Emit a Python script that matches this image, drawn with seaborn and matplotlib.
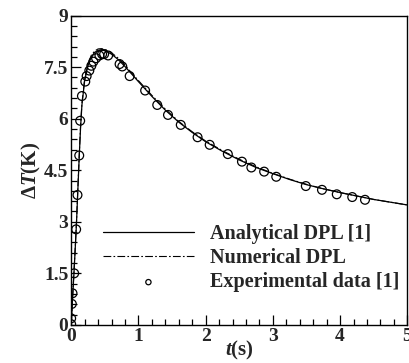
import matplotlib
matplotlib.use("Agg")
import matplotlib.pyplot as plt
import seaborn as sns
import pandas as pd
from matplotlib.ticker import MultipleLocator, FuncFormatter

# curve
t_curve = [0, 0.01, 0.02, 0.04, 0.06, 0.08, 0.1, 0.12, 0.14, 0.16, 0.2, 0.25, 0.3, 0.35,
           0.4, 0.45, 0.5, 0.6, 0.7, 0.8, 0.9, 1.0, 1.2, 1.4, 1.6, 1.8, 2.0, 2.25, 2.5,
           2.75, 3.0, 3.25, 3.5, 3.75, 4.0, 4.25, 4.5, 4.75, 5.0]
T_analytical = [0, 0.35, 0.75, 1.45, 2.2, 3.0, 3.95, 4.9, 5.75, 6.4, 7.1, 7.55, 7.8, 7.93,
                7.99, 8.0, 7.98, 7.88, 7.72, 7.52, 7.3, 7.08, 6.65, 6.25, 5.9, 5.6, 5.33,
                5.05, 4.8, 4.58, 4.4, 4.23, 4.08, 3.96, 3.85, 3.75, 3.65, 3.57, 3.49]
T_numerical = [0, 0.36, 0.77, 1.48, 2.24, 3.05, 4.0, 4.95, 5.8, 6.45, 7.15, 7.6, 7.85, 7.97,
               8.03, 8.04, 8.02, 7.92, 7.76, 7.56, 7.33, 7.11, 6.68, 6.28, 5.92, 5.62, 5.35,
               5.07, 4.82, 4.6, 4.41, 4.24, 4.09, 3.96, 3.85, 3.75, 3.65, 3.57, 3.49]

# experimental points
t_exp = [0.0, 0.0, 0.01, 0.02, 0.045, 0.074, 0.094, 0.12, 0.134, 0.16, 0.21, 0.23, 0.27,
         0.30, 0.33, 0.37, 0.42, 0.46, 0.49, 0.55, 0.72, 0.76, 0.87, 1.10, 1.28, 1.44,
         1.63, 1.88, 2.06, 2.33, 2.54, 2.68, 2.87, 3.05, 3.49, 3.73, 3.95, 4.18, 4.37]
T_exp = [0.02, 0.19, 0.61, 0.92, 1.50, 2.78, 3.78, 4.93, 5.94, 6.66, 7.08, 7.24, 7.40,
         7.54, 7.66, 7.76, 7.84, 7.88, 7.88, 7.84, 7.59, 7.52, 7.24, 6.82, 6.40, 6.11,
         5.82, 5.46, 5.24, 4.97, 4.75, 4.58, 4.46, 4.31, 4.04, 3.93, 3.80, 3.72, 3.64]

df_a = pd.DataFrame({"t": t_curve, "T": T_analytical})
df_n = pd.DataFrame({"t": t_curve, "T": T_numerical})
df_e = pd.DataFrame({"t": t_exp, "T": T_exp})

sns.set_style("ticks")
plt.rcParams["font.family"] = ["Liberation Serif", "DejaVu Serif"]
plt.rcParams["font.weight"] = "bold"
plt.rcParams["mathtext.fontset"] = "custom"
plt.rcParams["mathtext.rm"] = "Liberation Serif:bold"
plt.rcParams["mathtext.it"] = "Liberation Serif:bold:italic"

fig = plt.figure(figsize=(4.09, 3.63), dpi=100)
ax = fig.add_axes([0.174, 0.105, 0.822, 0.852])

sns.lineplot(data=df_a, x="t", y="T", ax=ax, color="black", lw=0.9,
             label="Analytical DPL [1]")
sns.lineplot(data=df_n, x="t", y="T", ax=ax, color="black", lw=0.8,
             dashes=False, label="Numerical DPL")
ax.lines[1].set_linestyle((0, (7, 2, 1.5, 2)))
sns.scatterplot(data=df_e, x="t", y="T", ax=ax, marker="o", s=40,
                facecolor="none", edgecolor="black", linewidth=0.9,
                label="Experimental data [1]")

ax.set_xlim(0, 5)
ax.set_ylim(0, 9)
ax.xaxis.set_major_locator(MultipleLocator(1))
ax.xaxis.set_minor_locator(MultipleLocator(0.2))
ax.yaxis.set_major_locator(MultipleLocator(1.5))
ax.yaxis.set_minor_locator(MultipleLocator(0.3))
ax.yaxis.set_major_formatter(FuncFormatter(lambda v, p: f"{v:g}"))
ax.tick_params(which="both", direction="in", top=False, right=False, labelsize=14,
               width=0.9, color="black")
ax.tick_params(which="major", length=7, pad=2)
ax.tick_params(which="minor", length=4)
for s in ax.spines.values():
    s.set_linewidth(1.0)
    s.set_color("black")

ax.set_xlabel(r"$\mathit{t}\mathrm{(s)}$", fontsize=15, labelpad=-4)
ax.set_ylabel(r"$\Delta\mathit{T}\mathrm{(K)}$", fontsize=15, labelpad=1)

leg = ax.legend(loc="upper left", bbox_to_anchor=(0.095, 0.325), frameon=False,
                fontsize=14.5, handlelength=4.5, handletextpad=0.8, labelspacing=0.2,
                borderpad=0, borderaxespad=0, markerscale=0.6)
for txt in leg.get_texts():
    txt.set_fontweight("bold")

fig.savefig("out.png", dpi=100)
